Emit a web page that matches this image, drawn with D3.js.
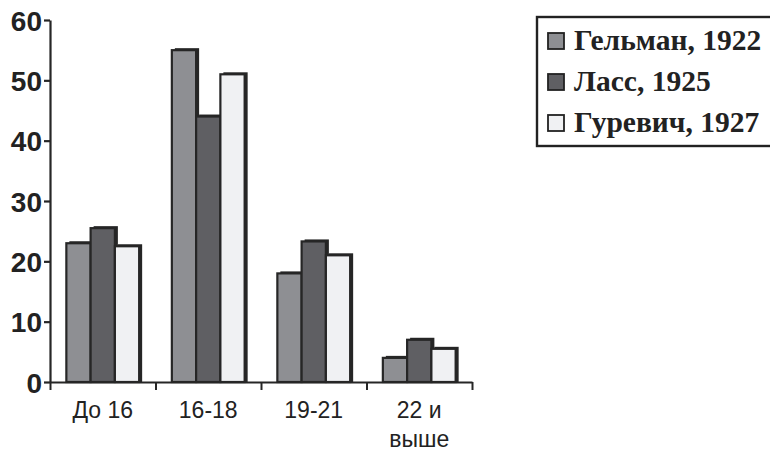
<!DOCTYPE html>
<html>
<head>
<meta charset="utf-8">
<script src="https://cdn.jsdelivr.net/npm/d3@7"></script>
<style>
  body { margin: 0; background: #fff; }
</style>
</head>
<body>
<div class="plot"></div>
<script>
// age groups and three surveys
var categories = ["До 16", "16-18", "19-21", "22 и выше"];
var seriesNames = ["Гельман, 1922", "Ласс, 1925", "Гуревич, 1927"];
var gelman = [23, 55, 18, 4];
var lass = [25.5, 44, 23.3, 7];
var gurevich = [22.5, 51, 21, 5.5];
var yTicks = [0, 10, 20, 30, 40, 50, 60];

var colors = ["#8e8f93", "#5f5f63", "#f0f1f3"];
var allSeries = [gelman, lass, gurevich];

var svgWidth = 770;
var svgHeight = 453;

var margin = { top: 20, right: 298, bottom: 71, left: 50 };
var width = svgWidth - margin.left - margin.right;
var height = svgHeight - margin.top - margin.bottom;

var svg = d3.select(".plot")
  .append("svg")
  .attr("width", svgWidth)
  .attr("height", svgHeight);

var chartGroup = svg.append("g")
  .attr("transform", `translate(${margin.left}, ${margin.top})`);

// scales
var xBand = d3.scaleBand()
  .domain(categories)
  .range([0, width])
  .paddingInner(0.31)
  .paddingOuter(0.155);

var xInner = d3.scaleBand()
  .domain(d3.range(seriesNames.length))
  .range([0, xBand.bandwidth()]);

var yScale = d3.scaleLinear()
  .domain([0, 60])
  .range([height, 0]);

// flat table for the bars
var bars = [];
categories.forEach((c, i) => {
  allSeries.forEach((s, j) => {
    bars.push({ cat: c, idx: j, value: s[i] });
  });
});

// shadow (3d edge) behind bars
var sh = 3;
chartGroup.selectAll(".shadow")
  .data(bars)
  .enter()
  .append("rect")
  .attr("class", "shadow")
  .attr("x", d => xBand(d.cat) + xInner(d.idx) + sh)
  .attr("y", d => yScale(d.value) - sh + 1)
  .attr("width", xInner.bandwidth())
  .attr("height", d => height - yScale(d.value) + sh - 1)
  .attr("fill", "#262626");

chartGroup.selectAll(".bar")
  .data(bars)
  .enter()
  .append("rect")
  .attr("class", "bar")
  .attr("x", d => xBand(d.cat) + xInner(d.idx))
  .attr("y", d => yScale(d.value))
  .attr("width", xInner.bandwidth())
  .attr("height", d => height - yScale(d.value))
  .attr("fill", d => colors[d.idx])
  .attr("stroke", "#262626")
  .attr("stroke-width", 2.2);

// axes
var xEdges = d3.scalePoint().domain(d3.range(categories.length + 1)).range([0, width]);

var leftAxis = d3.axisLeft(yScale)
  .tickValues(yTicks)
  .tickSize(6)
  .tickSizeOuter(0)
  .tickFormat(d3.format("d"));

var yAxisG = chartGroup.append("g").call(leftAxis);
yAxisG.select(".domain").attr("stroke", "#262626").attr("stroke-width", 2.2);
yAxisG.selectAll(".tick line").attr("stroke", "#262626").attr("stroke-width", 2.2);
yAxisG.selectAll("text")
  .attr("x", -8)
  .attr("dy", "0.36em")
  .style("font-family", "'Liberation Sans', Arial, sans-serif")
  .style("font-weight", "bold")
  .style("font-size", "28px")
  .attr("fill", "#222");

var bottomAxis = d3.axisBottom(xEdges)
  .tickSize(8)
  .tickSizeOuter(0)
  .tickFormat("");

var xAxisG = chartGroup.append("g")
  .attr("transform", `translate(0, ${height})`)
  .call(bottomAxis);
xAxisG.select(".domain").attr("stroke", "#262626").attr("stroke-width", 2.2);
xAxisG.selectAll(".tick line").attr("stroke", "#262626").attr("stroke-width", 2);

// category labels (last one wraps)
var catLabels = chartGroup.selectAll(".catLabel")
  .data(categories)
  .enter()
  .append("text")
  .attr("class", "catLabel")
  .attr("x", d => xBand(d) + xBand.bandwidth() / 2)
  .attr("y", height + 36)
  .style("font-family", "'Liberation Sans', Arial, sans-serif")
  .style("font-size", "23px")
  .style("text-anchor", "middle")
  .attr("fill", "#222");

catLabels.each(function(d) {
  var words = d === "22 и выше" ? ["22 и", "выше"] : [d];
  var t = d3.select(this);
  words.forEach((w, k) => {
    t.append("tspan")
      .attr("x", xBand(d) + xBand.bandwidth() / 2)
      .attr("dy", k === 0 ? 0 : 29)
      .text(w);
  });
});

// legend
var legend = svg.append("g").attr("transform", "translate(537, 17)");
legend.append("rect")
  .attr("x", 0)
  .attr("y", 0)
  .attr("width", 240)
  .attr("height", 129)
  .attr("fill", "#fff")
  .attr("stroke", "#222")
  .attr("stroke-width", 2.4);

var items = legend.selectAll(".item")
  .data(seriesNames)
  .enter()
  .append("g")
  .attr("transform", (d, i) => `translate(11, ${16 + i * 41})`);

items.append("rect")
  .attr("width", 16)
  .attr("height", 16)
  .attr("fill", (d, i) => colors[i])
  .attr("stroke", "#222")
  .attr("stroke-width", 1.8);

items.append("text")
  .attr("x", 26)
  .attr("y", 17)
  .style("font-family", "'Liberation Serif', 'Times New Roman', serif")
  .style("font-weight", "bold")
  .style("font-size", "29.5px")
  .attr("fill", "#222")
  .text(d => d);
</script>
</body>
</html>
